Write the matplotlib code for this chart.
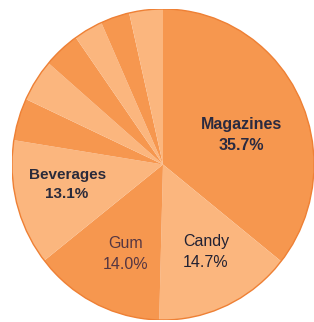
import matplotlib
matplotlib.use("Agg")
import matplotlib.pyplot as plt
from matplotlib.patches import Circle

categories = ["Magazines", "Candy", "Gum", "Beverages", "Other 1", "Other 2", "Other 3", "Other 4", "Other 5", "Other 6"]
values = [35.7, 14.7, 14.0, 13.1, 4.4, 4.4, 3.9, 3.1, 3.1, 3.6]
shown_labels = {"Magazines": "Magazines\n35.7%", "Candy": "Candy\n14.7%", "Gum": "Gum\n14.0%", "Beverages": "Beverages\n13.1%"}

dark = "#F6974F"
light = "#FBB67E"
colors = [dark if i % 2 == 0 else light for i in range(len(values))]

fig = plt.figure(figsize=(3.14, 3.22), dpi=100)
ax = fig.add_axes([12/314, 2/322, 302/314, 311/322])
wedges, _ = ax.pie(values, colors=colors, startangle=90, counterclock=False,
                   wedgeprops=dict(linewidth=0))
ax.set_aspect("auto")
ax.set_xlim(-1, 1)
ax.set_ylim(-1, 1)
ax.axis("off")
ax.add_patch(Circle((0, 0), 1.0, fill=False, edgecolor="#EE8035", linewidth=1.0))

font = ["Liberation Sans", "DejaVu Sans"]
label_pos = {"Magazines": (0.517, 0.19), "Candy": (0.285, -0.56), "Gum": (-0.245, -0.575), "Beverages": (-0.635, -0.13)}
weights = {"Magazines": "bold", "Candy": "normal", "Gum": "normal", "Beverages": "bold"}
sizes = {"Magazines": 11.5, "Candy": 11.5, "Gum": 11.5, "Beverages": 11}
tcolors = {"Magazines": "#2A2A40", "Candy": "#222233", "Gum": "#553642", "Beverages": "#2A2A3A"}
for name, txt in shown_labels.items():
    x, y = label_pos[name]
    ax.text(x, y, txt, ha="center", va="center", fontsize=sizes[name], fontweight=weights[name],
            family=font, color=tcolors[name], linespacing=1.5)

fig.savefig("out.png", dpi=100, facecolor="white")
